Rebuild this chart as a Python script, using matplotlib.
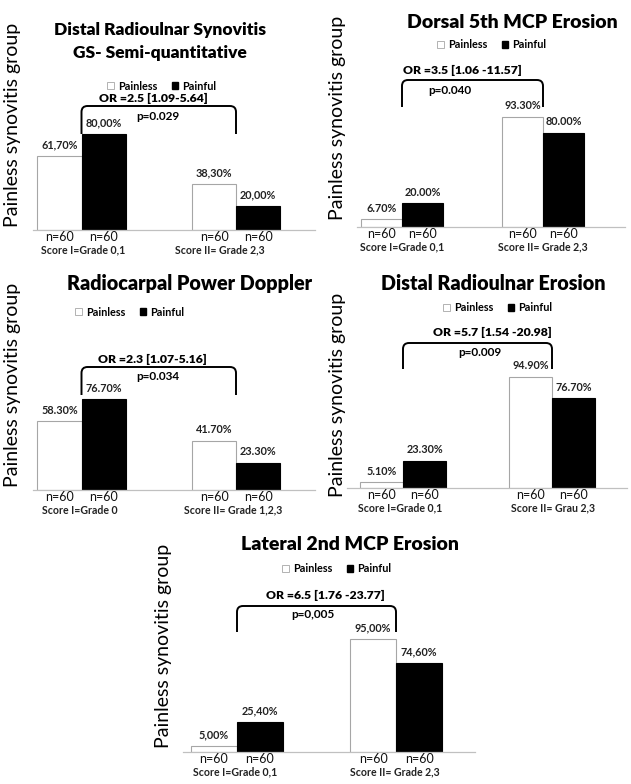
import numpy as np
import matplotlib
matplotlib.use('Agg')
import matplotlib.pyplot as plt
from matplotlib.path import Path
from matplotlib.patches import PathPatch, Patch

plt.rcParams['font.family'] = ['Lato', 'DejaVu Sans']

W, H = 631, 784

# data
titles = ['Distal Radioulnar Synovitis\nGS- Semi-quantitative',
          'Dorsal 5th MCP Erosion',
          'Radiocarpal Power Doppler',
          'Distal Radioulnar Erosion',
          'Lateral 2nd MCP Erosion']
painless = [[61.7, 38.3], [6.7, 93.3], [58.3, 41.7], [5.1, 94.9], [5.0, 95.0]]
painful = [[80.0, 20.0], [20.0, 80.0], [76.7, 23.3], [23.3, 76.7], [25.4, 74.6]]
dec_sep = [',', '.', '.', '.', ',']
n_painless = [[60, 60]] * 5
n_painful = [[60, 60]] * 5
or_text = ['OR =2.5 [1.09-5.64]', 'OR =3.5 [1.06 -11.57]', 'OR =2.3 [1.07-5.16]',
           'OR =5.7 [1.54 -20.98]', 'OR =6.5 [1.76 -23.77]']
p_text = ['p=0.029', 'p=0.040', 'p=0.034', 'p=0.009', 'p=0,005']
score_labels = [['Score I=Grade 0,1', 'Score II= Grade 2,3'],
                ['Score I=Grade 0,1', 'Score II= Grade 2,3'],
                ['Score I=Grade 0', 'Score II= Grade 1,2,3'],
                ['Score I=Grade 0,1', 'Score II= Grau 2,3'],
                ['Score I=Grade 0,1', 'Score II= Grade 2,3']]
series = ['Painless', 'Painful']
ylabel = 'Painless synovitis group'

# layout in pixels (left, right, baseline, px per %, group0 center, group1 center, bar width)
axes_px = [(33, 315, 230, 1.20, 81.5, 236, 44),
           (357, 625, 227, 1.18, 402, 543, 41),
           (33, 315, 490, 1.18, 81.5, 236, 44),
           (347, 627, 488, 1.17, 403, 552, 43),
           (183, 475, 752, 1.19, 237, 396, 46)]
title_px = [(160, 30), (512, 23), (190, 283), (493, 283), (350, 545)]
title_size = [12.5, 14, 14.2, 14.2, 14]
legend_px = [(162, 86), (492, 45), (130, 312), (498, 308), (337, 569)]
or_px = [(153, 98), (462, 70), (152, 359), (492, 332), (325, 595)]
p_px = [(158, 117), (450, 91), (158, 377), (480, 353), (313, 615)]
bracket_px = [(106, 134), (80, 107), (367, 395), (343, 369), (606, 632)]
ylab_px = [(13, 125), (337, 118), (13, 385), (338, 395), (163, 646)]
score_x_px = [(83, 220), (402, 543), (80, 233), (400, 553), (235, 395)]
n_dy, score_dy = 7, 20

fig = plt.figure(figsize=(W / 100, H / 100), dpi=100)


def fx(x):
    return x / W


def fy(y):
    return 1 - y / H


for i in range(5):
    left, right, base, sc, g0, g1, bw = axes_px[i]
    unit = g1 - g0
    top = base - 100 * sc
    ax = fig.add_axes([fx(left), fy(base), (right - left) / W, (base - top) / H])
    ax.set_xlim((left - g0) / unit, (right - g0) / unit)
    ax.set_ylim(0, 100)
    w = bw / unit
    x = np.arange(2)
    b1 = ax.bar(x - w / 2, painless[i], w, color='white', edgecolor='#a6a6a6', lw=0.8)
    b2 = ax.bar(x + w / 2, painful[i], w, color='black', edgecolor='black', lw=0.8)
    for bars, vals in ((b1, painless[i]), (b2, painful[i])):
        for r, v in zip(bars, vals):
            s = ('%.2f%%' % v).replace('.', dec_sep[i])
            ax.text(r.get_x() + r.get_width() / 2, v + 11 / sc, s, ha='center', va='center',
                    fontsize=7.8, fontweight='bold', color='#222222')
    # n labels and score labels below the axis
    for bars, ns in ((b1, n_painless[i]), (b2, n_painful[i])):
        for r, n in zip(bars, ns):
            ax.text(r.get_x() + r.get_width() / 2, -n_dy / sc, 'n=%d' % n, ha='center', va='center',
                    fontsize=9, color='#111111')
    for k in range(2):
        ax.text((score_x_px[i][k] - g0) / unit, -score_dy / sc, score_labels[i][k],
                ha='center', va='center', fontsize=7.6, fontweight='bold', color='#222222')

    # bracket between the two groups
    ytop = (base - bracket_px[i][0]) / sc
    yend = (base - bracket_px[i][1]) / sc
    rx, ry = 6 / unit, 6 / sc
    verts = [(0, yend), (0, ytop - ry), (0, ytop), (rx, ytop), (1 - rx, ytop),
             (1, ytop), (1, ytop - ry), (1, yend)]
    codes = [Path.MOVETO, Path.LINETO, Path.CURVE3, Path.CURVE3, Path.LINETO,
             Path.CURVE3, Path.CURVE3, Path.LINETO]
    ax.add_patch(PathPatch(Path(verts, codes), fill=False, lw=1.4, color='black', clip_on=False))

    ax.text((or_px[i][0] - g0) / unit, (base - or_px[i][1]) / sc, or_text[i], ha='center', va='center',
            fontsize=8.8, fontweight='heavy', clip_on=False)
    ax.text((p_px[i][0] - g0) / unit, (base - p_px[i][1]) / sc, p_text[i], ha='center', va='center',
            fontsize=8.5, fontweight='bold', clip_on=False)

    for s in ['top', 'right', 'left']:
        ax.spines[s].set_visible(False)
    ax.spines['bottom'].set_color('#c0c0c0')
    ax.spines['bottom'].set_linewidth(0.9)
    ax.set_xticks([])
    ax.set_yticks([])
    ax.patch.set_alpha(0)

    for j, line in enumerate(titles[i].split('\n')):
        fig.text(fx(title_px[i][0]), fy(title_px[i][1] + 23 * j), line, ha='center', va='center',
                 fontsize=title_size[i], fontweight='heavy')
    fig.text(fx(ylab_px[i][0]), fy(ylab_px[i][1]), ylabel, ha='center', va='center',
             rotation=90, fontsize=14)
    handles = [Patch(facecolor='white', edgecolor='#a6a6a6', lw=0.6),
               Patch(facecolor='black', edgecolor='black')]
    fig.legend(handles, series, loc='center', bbox_to_anchor=(fx(legend_px[i][0]), fy(legend_px[i][1])),
               ncol=2, frameon=False, handlelength=0.6, handleheight=0.6,
               handletextpad=0.4, columnspacing=1.3, borderpad=0,
               prop={'weight': 'bold', 'size': 7.8})

fig.savefig('out.png', dpi=100)
